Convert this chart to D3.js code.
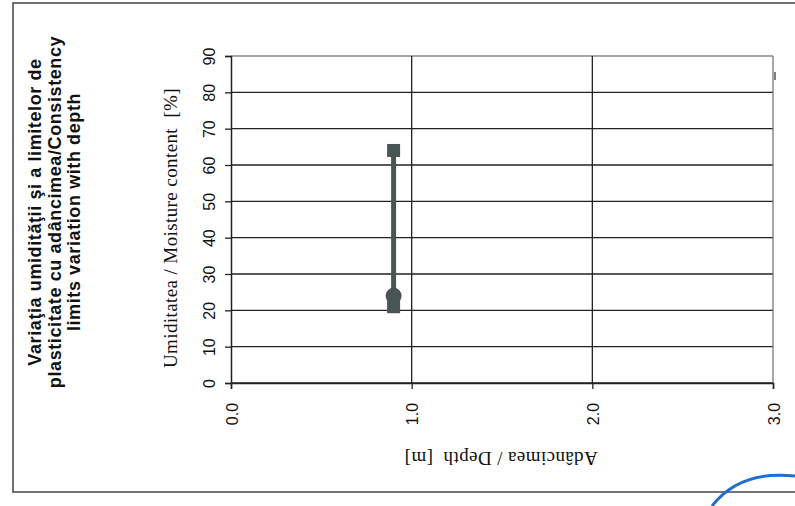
<!DOCTYPE html>
<html>
<head>
<meta charset="utf-8">
<script src="https://cdn.jsdelivr.net/npm/d3@7"></script>
<style>
  body { margin: 0; background: #fff; }
  svg { display: block; }
</style>
</head>
<body>
<div id="drawing"></div>
<script>
// data
var depth = [0.9];
var moisture = [24];
var plasticLimit = [21];
var liquidLimit = [64];
var yTicks = [0, 10, 20, 30, 40, 50, 60, 70, 80, 90];
var xTicks = [0, 1, 2, 3];
var titleLines = [
  "Variaţia umidităţii şi a limitelor de",
  "plasticitate cu adâncimea/Consistency",
  "limits variation with depth"
];

var width = 795, height = 506;
var ink = "#222";
var markColor = "#4a5553";

var svg = d3.select("#drawing").append("svg")
  .attr("width", width)
  .attr("height", height);

// outer frame of the sheet
svg.append("rect")
  .attr("x", 13).attr("y", 3)
  .attr("width", 820).attr("height", 489)
  .attr("fill", "none")
  .attr("stroke", "#444")
  .attr("stroke-width", 1.5);

var xScale = d3.scaleLinear().domain([0, 3]).range([231, 773]);
var yScale = d3.scaleLinear().domain([0, 90]).range([383, 56]);

// horizontal grid
svg.append("g").selectAll("line")
  .data(yTicks)
  .enter().append("line")
  .attr("x1", xScale(0)).attr("x2", xScale(3))
  .attr("y1", yScale).attr("y2", yScale)
  .attr("stroke", function(d) { return d == 90 ? "#888" : ink; })
  .attr("stroke-width", 1.3);

// vertical grid
svg.append("g").selectAll("line")
  .data(xTicks.slice(1))
  .enter().append("line")
  .attr("x1", xScale).attr("x2", xScale)
  .attr("y1", yScale(90)).attr("y2", yScale(0))
  .attr("stroke", function(d) { return d == 3 ? "#777" : ink; })
  .attr("stroke-width", 1.3);

// left axis, labels turned on their side
var yAxis = svg.append("g")
  .attr("transform", "translate(" + xScale(0) + ",0)")
  .call(d3.axisLeft(yScale).tickValues(yTicks).tickSize(6).tickPadding(0));
yAxis.select(".domain").attr("stroke", ink).attr("stroke-width", 1.5);
yAxis.selectAll(".tick line").attr("stroke", ink).attr("stroke-width", 1.3);
yAxis.selectAll(".tick text")
  .attr("x", null).attr("dy", null)
  .attr("text-anchor", "middle")
  .attr("transform", "translate(-22,0) rotate(-90) translate(0,6)")
  .attr("font-family", "Liberation Sans, Arial, sans-serif")
  .attr("font-size", 16)
  .attr("fill", "#111");

// bottom axis
var xAxis = svg.append("g")
  .attr("transform", "translate(0," + yScale(0) + ")")
  .call(d3.axisBottom(xScale).tickValues(xTicks).tickFormat(d3.format(".1f")).tickSize(6).tickPadding(0));
xAxis.select(".domain").attr("stroke", ink).attr("stroke-width", 1.5);
xAxis.selectAll(".tick line").attr("stroke", ink).attr("stroke-width", 1.3);
xAxis.selectAll(".tick text")
  .attr("y", null).attr("dy", null)
  .attr("text-anchor", "middle")
  .attr("transform", "translate(0,31) rotate(-90) translate(0,6)")
  .attr("font-family", "Liberation Sans, Arial, sans-serif")
  .attr("font-size", 16)
  .attr("fill", "#111");

// axis titles
svg.append("text")
  .attr("transform", "translate(177,228) rotate(-90)")
  .attr("text-anchor", "middle")
  .attr("font-family", "Liberation Serif, Times New Roman, serif")
  .attr("font-size", 19)
  .attr("letter-spacing", 0.4)
  .attr("fill", "#111")
  .attr("xml:space", "preserve")
  .text("Umiditatea / Moisture content  [%]");

svg.append("text")
  .attr("transform", "translate(501,452) rotate(180)")
  .attr("text-anchor", "middle")
  .attr("font-family", "Liberation Serif, Times New Roman, serif")
  .attr("font-size", 19)
  .attr("letter-spacing", 0.4)
  .attr("fill", "#111")
  .attr("xml:space", "preserve")
  .text("Adâncimea / Depth  [m]");

// title
svg.append("g").selectAll("text")
  .data(titleLines)
  .enter().append("text")
  .attr("transform", function(d, i) { return "translate(" + (41 + i * 19.5) + ",212) rotate(-90)"; })
  .attr("text-anchor", "middle")
  .attr("font-family", "Liberation Sans, Arial, sans-serif")
  .attr("font-weight", "bold")
  .attr("font-size", 18)
  .attr("letter-spacing", 0.6)
  .attr("fill", "#111")
  .text(function(d) { return d; });

// plasticity range line
var rows = depth.map(function(d, i) {
  return { depth: d, wp: plasticLimit[i], wl: liquidLimit[i], w: moisture[i] };
});
var marks = svg.append("g");
marks.selectAll("line.range")
  .data(rows)
  .enter().append("line")
  .attr("class", "range")
  .attr("x1", function(d) { return xScale(d.depth); })
  .attr("x2", function(d) { return xScale(d.depth); })
  .attr("y1", function(d) { return yScale(d.wp); })
  .attr("y2", function(d) { return yScale(d.wl); })
  .attr("stroke", markColor)
  .attr("stroke-width", 5);

var sq = 13;
marks.selectAll("rect.wp")
  .data(rows)
  .enter().append("rect")
  .attr("x", function(d) { return xScale(d.depth) - sq / 2; })
  .attr("y", function(d) { return yScale(d.wp) - sq / 2; })
  .attr("width", sq).attr("height", sq)
  .attr("fill", markColor);
marks.selectAll("rect.wl")
  .data(rows)
  .enter().append("rect")
  .attr("x", function(d) { return xScale(d.depth) - sq / 2; })
  .attr("y", function(d) { return yScale(d.wl) - sq / 2; })
  .attr("width", sq).attr("height", sq)
  .attr("fill", markColor);
marks.selectAll("circle")
  .data(rows)
  .enter().append("circle")
  .attr("cx", function(d) { return xScale(d.depth); })
  .attr("cy", function(d) { return yScale(d.w); })
  .attr("r", 8)
  .attr("fill", markColor);

// small mark at the top right of the plot border
svg.append("line")
  .attr("x1", 775).attr("x2", 775)
  .attr("y1", 72).attr("y2", 80)
  .attr("stroke", "#555").attr("stroke-width", 1.5);

// edge of the blue stamp
svg.append("path")
  .attr("d", "M712,506 Q740,470 795,476")
  .attr("fill", "none")
  .attr("stroke", "#1f6fd1")
  .attr("stroke-width", 3);
</script>
</body>
</html>
